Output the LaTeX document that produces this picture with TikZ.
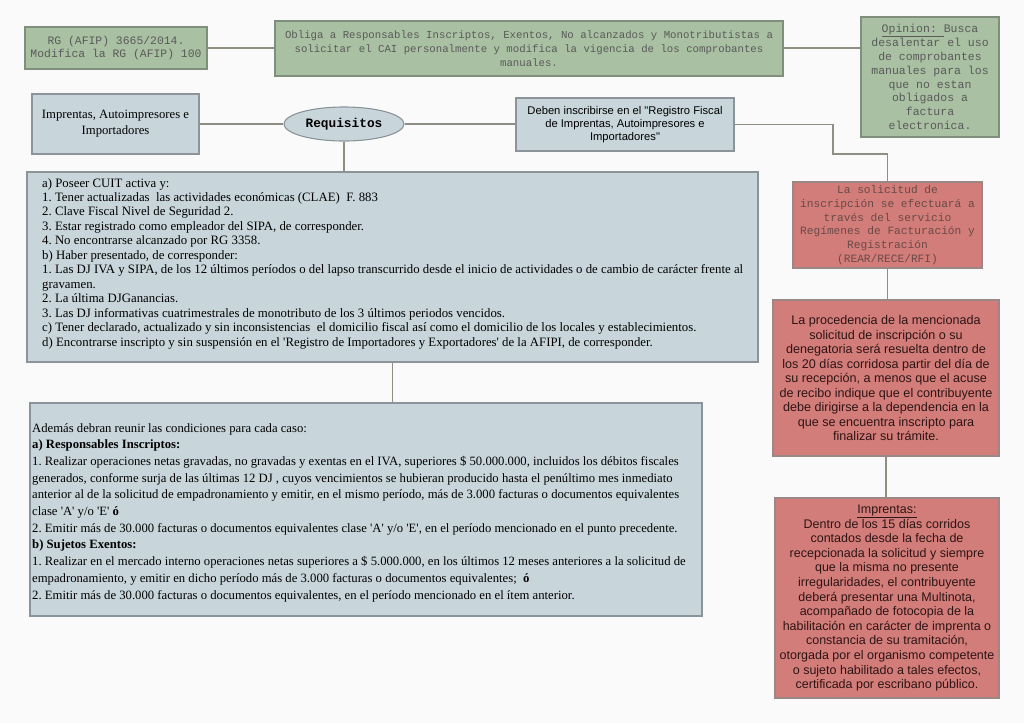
\documentclass[tikz,border=0pt]{standalone}
\usepackage{fontspec}
\setmainfont{Liberation Serif}[Ligatures=TeXOff]
\setsansfont{Liberation Sans}[Ligatures=TeXOff]
\setmonofont{Liberation Mono}
\usetikzlibrary{shapes.geometric}
\definecolor{bg}{HTML}{FAFAFA}
\definecolor{gfill}{HTML}{A9C0A2}
\definecolor{gdraw}{HTML}{7F8F7B}
\definecolor{gtext}{HTML}{5A5A5A}
\definecolor{bfill}{HTML}{C8D6DC}
\definecolor{bdraw}{HTML}{8B9599}
\definecolor{rfill}{HTML}{D27D79}
\definecolor{rdraw}{HTML}{9B8886}
\definecolor{rtext}{HTML}{2E1515}
\definecolor{rgtext}{HTML}{6A4A48}
\definecolor{conn}{HTML}{8E8E84}
\frenchspacing
\begin{document}
\frenchspacing
\begin{tikzpicture}[x=1pt,y=-1pt,
 box/.style={draw, line width=1.1pt, inner sep=0pt, align=center},
 gbox/.style={box, fill=gfill, draw=gdraw, text=gtext},
 bbox/.style={box, fill=bfill, draw=bdraw, text=black},
 rbox/.style={box, fill=rfill, draw=rdraw, text=rtext},
 monoA/.style={font=\ttfamily\fontsize{11.4}{13}\selectfont},
 sansA/.style={font=\sffamily\fontsize{12.6}{14.5}\selectfont},
 plain/.style={inner sep=0pt, align=left, anchor=north west},
 link/.style={draw=conn, line width=1.2pt}]
\fill[bg] (0,0) rectangle (1024,723);
\useasboundingbox (0,0) rectangle (1024,723);

% green boxes
\node[gbox, monoA, minimum width=182pt, minimum height=42pt] (rg) at (116,48)
 {RG (AFIP) 3665/2014.\\Modifica la RG (AFIP) 100};
\node[gbox, font=\ttfamily\fontsize{10.7}{14}\selectfont, minimum width=508pt, minimum height=55pt] (oblig) at (529,48.5)
 {Obliga a Responsables Inscriptos, Exentos, No alcanzados y Monotributistas a\\
  solicitar el CAI personalmente y modifica la vigencia de los comprobantes\\
  manuales.};
\node[gbox, font=\ttfamily\fontsize{11.5}{13.9}\selectfont, minimum width=138pt, minimum height=120pt] (opin) at (930,77)
 {\underline{Opinion:\ }Busca\\desalentar el uso\\de comprobantes\\manuales para los\\que no estan\\obligados a\\factura\\electronica.};

% blue boxes
\node[bbox, font=\rmfamily\fontsize{12.7}{16}\selectfont, minimum width=167pt, minimum height=60pt] (impr) at (115.5,124)
 {Imprentas, Autoimpresores e\\Importadores};
\node[ellipse, draw=bdraw, fill=bfill, line width=1.1pt, inner sep=0pt, minimum width=120pt, minimum height=34pt,
 font=\ttfamily\bfseries\fontsize{12.8}{14}\selectfont] (req) at (344,124) {Requisitos};
\node[bbox, font=\sffamily\fontsize{11.2}{12.8}\selectfont, minimum width=218pt, minimum height=53pt] (deben) at (625,124.5)
 {Deben inscribirse en el "Registro Fiscal\\de Imprentas, Autoimpresores e\\Importadores"};

\node[bbox, minimum width=731pt, minimum height=190pt] (reqs) at (392.5,267) {};
\node[plain, font=\rmfamily\fontsize{12.8}{14.45}\selectfont] (reqtxt) at (42,178)
 {a) Poseer CUIT activa y:\\
  1. Tener actualizadas\ \ las actividades económicas (CLAE)\ \ F. 883\\
  2. Clave Fiscal Nivel de Seguridad 2.\\
  3. Estar registrado como empleador del SIPA, de corresponder.\\
  4. No encontrarse alcanzado por RG 3358.\\
  b) Haber presentado, de corresponder:\\
  1. Las DJ IVA y SIPA, de los 12 últimos períodos o del lapso transcurrido desde el inicio de actividades o de cambio de carácter frente al\\
  gravamen.\\
  2. La última DJGanancias.\\
  3. Las DJ informativas cuatrimestrales de monotributo de los 3 últimos periodos vencidos.\\
  c) Tener declarado, actualizado y sin inconsistencias\ \ el domicilio fiscal así como el domicilio de los locales y establecimientos.\\
  d) Encontrarse inscripto y sin suspensión en el 'Registro de Importadores y Exportadores' de la AFIPI, de corresponder.};

\node[bbox, minimum width=672pt, minimum height=213pt] (cond) at (366,509.5) {};
\node[plain, font=\rmfamily\fontsize{12.7}{16.7}\selectfont] (condtxt) at (32,423)
 {Además debran reunir las condiciones para cada caso:\\
  \textbf{a) Responsables Inscriptos:}\\
  1. Realizar operaciones netas gravadas, no gravadas y exentas en el IVA, superiores \$ 50.000.000, incluidos los débitos fiscales\\
  generados, conforme surja de las últimas 12 DJ , cuyos vencimientos se hubieran producido hasta el penúltimo mes inmediato\\
  anterior al de la solicitud de empadronamiento y emitir, en el mismo período, más de 3.000 facturas o documentos equivalentes\\
  clase 'A' y/o 'E' \textbf{ó}\\
  2. Emitir más de 30.000 facturas o documentos equivalentes clase 'A' y/o 'E', en el período mencionado en el punto precedente.\\
  \textbf{b) Sujetos Exentos:}\\
  1. Realizar en el mercado interno operaciones netas superiores a \$ 5.000.000, en los últimos 12 meses anteriores a la solicitud de\\
  empadronamiento, y emitir en dicho período más de 3.000 facturas o documentos equivalentes;\ \ \textbf{ó}\\
  2. Emitir más de 30.000 facturas o documentos equivalentes, en el período mencionado en el ítem anterior.};

% red boxes
\node[rbox, text=rgtext, font=\ttfamily\fontsize{11.2}{13.8}\selectfont, minimum width=189pt, minimum height=86pt] (red1) at (887.5,225)
 {La solicitud de\\inscripción se efectuará a\\través del servicio\\Regímenes de Facturación y\\Registración\\(REAR/RECE/RFI)};
\node[rbox, sansA, minimum width=226pt, minimum height=156pt] (red2) at (886,378)
 {La procedencia de la mencionada\\solicitud de inscripción o su\\denegatoria será resuelta dentro de\\los 20 días corridosa partir del día de\\su recepción, a menos que el acuse\\de recibo indique que el contribuyente\\debe dirigirse a la dependencia en la\\que se encuentra inscripto para\\finalizar su trámite.};
\node[rbox, font=\sffamily\fontsize{12.5}{14.6}\selectfont, minimum width=224pt, minimum height=200pt] (red3) at (887,598)
 {\underline{Imprentas:}\\Dentro de los 15 días corridos\\contados desde la fecha de\\recepcionada la solicitud y siempre\\que la misma no presente\\irregularidades, el contribuyente\\deberá presentar una Multinota,\\acompañado de fotocopia de la\\habilitación en carácter de imprenta o\\constancia de su tramitación,\\otorgada por el organismo competente\\o sujeto habilitado a tales efectos,\\certificada por escribano público.};

% connectors
\coordinate (k1) at (833,154);
\draw[link] (rg.east) -- (rg.east -| oblig.west);
\draw[link] (oblig.east |- rg.east) -- (rg.east -| opin.west);
\draw[link] (impr.east) -- (req.west);
\draw[link] (req.east) -- (req.east -| deben.west);
\draw[link] (req.south) -- (req.south |- reqs.north);
\draw[link] (deben.east) -| (k1) -| (red1.north);
\draw[link] (reqs.south) -- (reqs.south |- cond.north);
\draw[link] (red1.south) -- (red1.south |- red2.north);
\draw[link] (red2.south) -- (red2.south |- red3.north);
\end{tikzpicture}
\end{document}
